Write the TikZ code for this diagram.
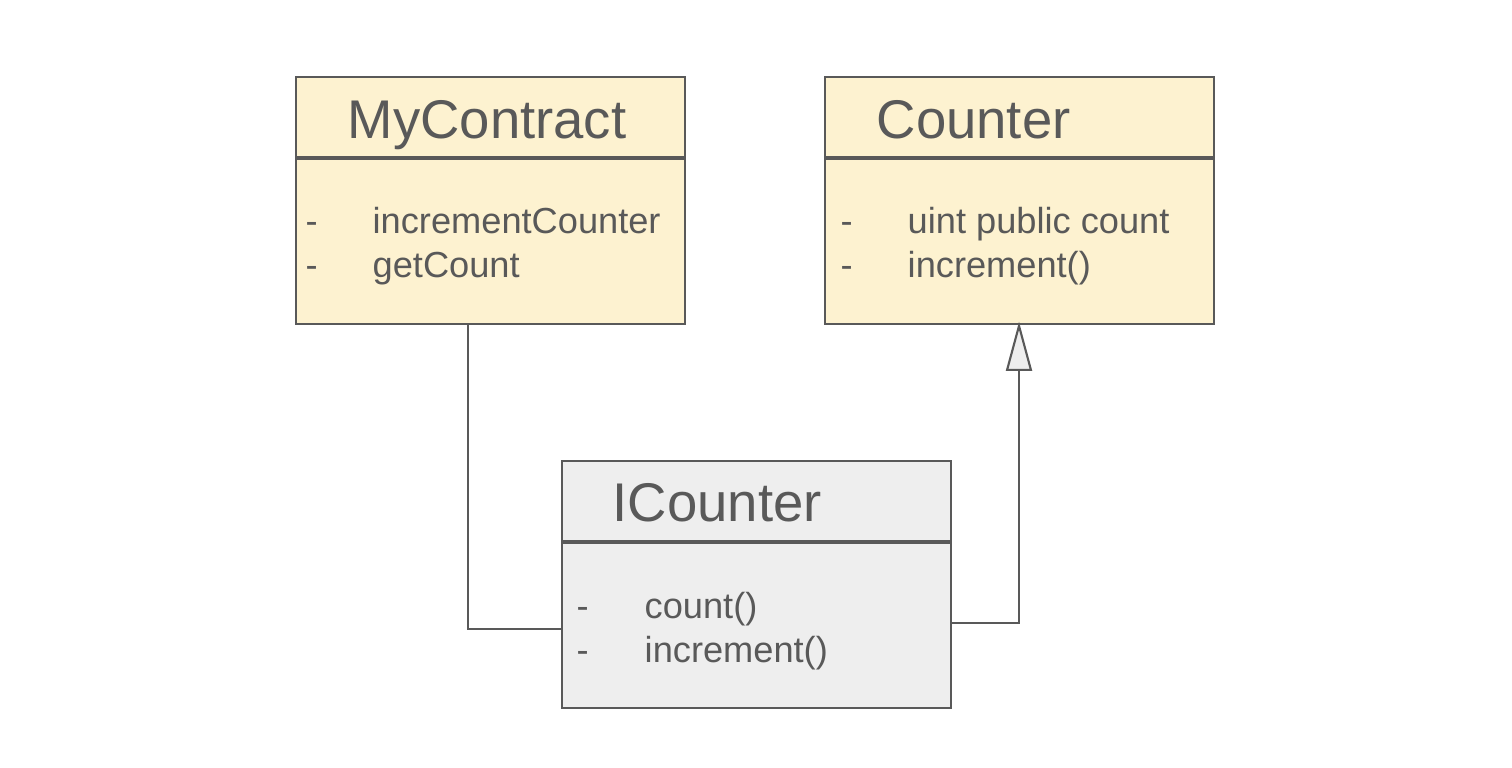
\documentclass[tikz,border=0pt]{standalone}
\usepackage{fontspec}
\setmainfont{Liberation Sans}
\usetikzlibrary{arrows.meta}
\definecolor{edgegrey}{HTML}{595959}
\definecolor{classfill}{HTML}{FDF2D0}
\definecolor{ifacefill}{HTML}{EEEEEE}
\tikzset{
  classbox/.style={draw=edgegrey, line width=0.6pt, anchor=north west, minimum width=3.89cm, minimum height=2.47cm, inner sep=0pt},
  titletext/.style={anchor=base west, inner sep=0pt, text=edgegrey, font=\fontsize{15.5}{18}\selectfont},
  itemtext/.style={anchor=base west, inner sep=0pt, text=edgegrey, font=\fontsize{10.3}{12}\selectfont},
  divider/.style={draw=edgegrey, line width=1.1pt},
  link/.style={draw=edgegrey, line width=0.6pt}
}
\begin{document}
\begin{tikzpicture}[x=0.01cm, y=-0.01cm]
        \useasboundingbox (0,0) rectangle (1512,768);
        % classes
        \node[classbox, fill=classfill] (mc) at (295,76) {};
        \node[classbox, fill=classfill] (ct) at (824,76) {};
        \node[classbox, fill=ifacefill] (ic) at (561,460) {};
        \draw[divider] (295,158) -- (684,158);
        \draw[divider] (824,158) -- (1213,158);
        \draw[divider] (561,542) -- (950,542);
        % MyContract
        \node[titletext] (mctitle) at (347,139) {MyContract};
        \node[itemtext] (mcdash1) at (305,234) {-};
        \node[itemtext] (mcitem1) at (372,234) {incrementCounter};
        \node[itemtext] (mcdash2) at (305,278) {-};
        \node[itemtext] (mcitem2) at (372,278) {getCount};
        % Counter
        \node[titletext] (cttitle) at (876,139) {Counter};
        \node[itemtext] (ctdash1) at (840,234) {-};
        \node[itemtext] (ctitem1) at (907,234) {uint public count};
        \node[itemtext] (ctdash2) at (840,278) {-};
        \node[itemtext] (ctitem2) at (907,278) {increment()};
        % ICounter
        \node[titletext] (ictitle) at (612,522) {ICounter};
        \node[itemtext] (icdash1) at (576,619) {-};
        \node[itemtext] (icitem1) at (644,619) {count()};
        \node[itemtext] (icdash2) at (576,663) {-};
        \node[itemtext] (icitem2) at (644,663) {increment()};
        % links
        \coordinate (bendl) at (468,629);
        \coordinate (bendr) at (1019,623);
        \draw[link] (mc.south -| bendl) -- (bendl) -- (bendl -| ic.west);
        \draw[link, shorten >=-1pt, -{Triangle[length=14pt, width=7.4pt, fill=ifacefill, line width=0.6pt]}] (ic.east |- bendr) -- (bendr) -- (bendr |- ct.south);
\end{tikzpicture}
\end{document}
